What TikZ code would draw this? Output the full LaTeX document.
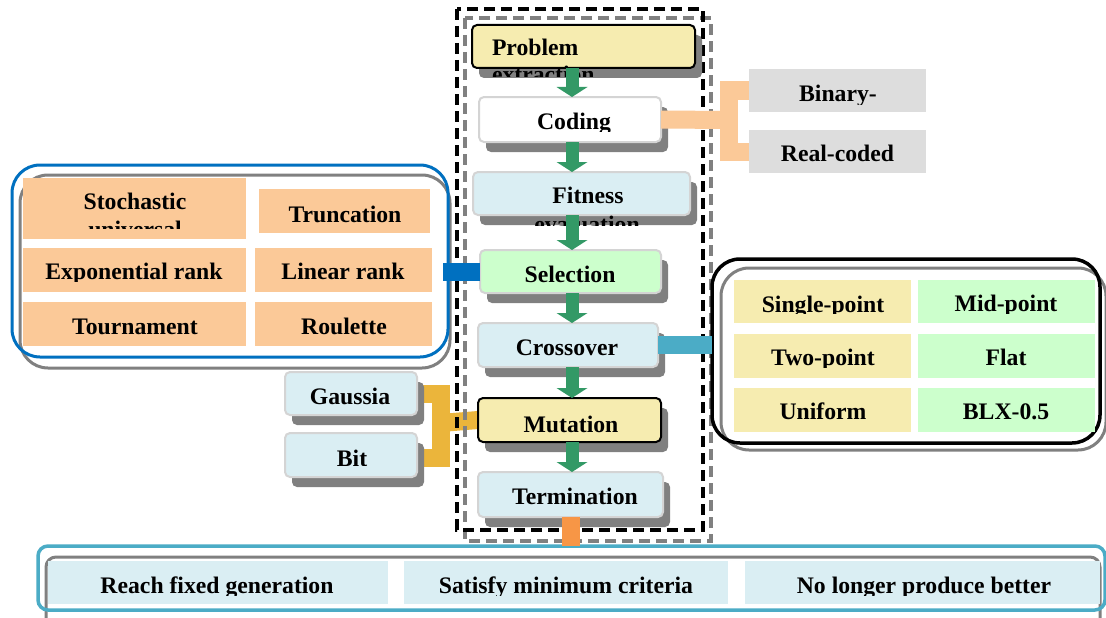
\documentclass[tikz,border=0pt]{standalone}
\usepackage{fontspec}
\setmainfont{Liberation Serif}
\usetikzlibrary{arrows.meta,calc}
\definecolor{yelC}{HTML}{F6ECB0}
\definecolor{lbC}{HTML}{DAEEF3}
\definecolor{grnC}{HTML}{CCFFCC}
\definecolor{peaC}{HTML}{FBC998}
\definecolor{grayC}{HTML}{DDDDDD}
\definecolor{blueC}{HTML}{0070C0}
\definecolor{tealC}{HTML}{4BACC6}
\definecolor{oraC}{HTML}{F79646}
\definecolor{musC}{HTML}{EBB53B}
\definecolor{arrC}{HTML}{339966}
\definecolor{shdC}{HTML}{808080}
\definecolor{bordC}{HTML}{D4D4D4}
\pgfdeclarelayer{back}
\pgfdeclarelayer{frame}
\pgfsetlayers{back,frame,main}
\newcommand{\rbox}[6]{\pgfmathsetmacro\bw{#4-#2}\pgfmathsetmacro\bh{#5-#3}%
 \node[#6, minimum width=\bw pt, minimum height=\bh pt, inner sep=0pt, outer sep=0pt] (#1) at ({(#2+#4)/2},{(#3+#5)/2}) {};}
\newcommand{\shbox}[6]{\fill[shdC, rounded corners=5pt] ({#2+7},{#3+10}) rectangle ({#4+7},{#5+10});%
 \rbox{#1}{#2}{#3}{#4}{#5}{#6}}
\newcommand{\ctxt}[5]{\begin{scope}\clip (0,0) rectangle (1106,#4);\node[txt,anchor=base] (#1) at (#2,#3) {#5};\end{scope}}
\begin{document}
\begin{tikzpicture}[x=1pt,y=-1pt,
  txt/.style={font=\fontsize{23.7}{28}\selectfont\bfseries, inner sep=0pt, outer sep=0pt},
  mainbox/.style={rounded corners=5pt, line width=2pt},
  cell/.style={draw=none},
  grpline/.style={line width=3pt, rounded corners=28pt},
  garrow/.style={arrC, line width=13pt, -{Triangle[width=31pt,length=10pt,line width=0pt]}},
  bar/.style={line width=18pt},
  dashframe/.style={line width=3.4pt, dash pattern=on 11pt off 6pt}]
\useasboundingbox (0,0) rectangle (1106,618);
\begin{pgfonlayer}{back}
\fill[white] (0,0) rectangle (1106,618);
\end{pgfonlayer}
% dashed frames
\begin{pgfonlayer}{frame}
\draw[shdC, dashframe] (465,18) rectangle (711,541);
\draw[black, dashframe] (457,9) rectangle (703,530);
\end{pgfonlayer}
% group outlines
\rbox{selgray}{20}{175}{450}{368}{draw=shdC, grpline}
\rbox{selgrp}{12}{165}{448}{357}{draw=blueC, grpline}
\rbox{crogray}{721}{268}{1106}{450}{draw=shdC, grpline}
\rbox{crogrp}{712}{259}{1100}{443}{draw=black, grpline, line width=3.5pt}
\rbox{botgray}{46}{557}{1100}{630}{draw=shdC, line width=3pt, rounded corners=10pt}
\rbox{bot}{38}{546}{1105}{610}{draw=tealC, line width=3.5pt, rounded corners=10pt}
% selection cells
\rbox{sus}{23}{178}{246}{239}{cell, fill=peaC}
\rbox{tru}{259}{189}{430}{233}{cell, fill=peaC}
\rbox{exr}{23}{248}{246}{292}{cell, fill=peaC}
\rbox{lir}{255}{248}{432}{292}{cell, fill=peaC}
\rbox{tou}{23}{302}{246}{346}{cell, fill=peaC}
\rbox{rou}{255}{302}{432}{346}{cell, fill=peaC}
\node[txt, anchor=base] (sust) at (135,209) {Stochastic};
\ctxt{sust2}{135}{237}{228}{universal}
\node[txt, anchor=base] (trut) at (345,222) {Truncation};
\ctxt{exrt}{134}{279}{281}{Exponential rank}
\node[txt, anchor=base] (lirt) at (343,279) {Linear rank};
\node[txt, anchor=base] (tout) at (135,334) {Tournament};
\node[txt, anchor=base] (rout) at (344,334) {Roulette};
% crossover cells
\rbox{sgp}{734}{280}{911}{323}{cell, fill=yelC}
\rbox{mdp}{918}{280}{1095}{323}{cell, fill=grnC}
\rbox{twp}{734}{334}{911}{378}{cell, fill=yelC}
\rbox{flt}{918}{334}{1095}{378}{cell, fill=grnC}
\rbox{uni}{734}{388}{911}{432}{cell, fill=yelC}
\rbox{blx}{918}{388}{1095}{432}{cell, fill=grnC}
\ctxt{sgpt}{823}{312}{313}{Single-point}
\ctxt{mdpt}{1006}{311}{313}{Mid-point}
\ctxt{twpt}{823}{365}{367}{Two-point}
\node[txt, anchor=base] (fltt) at (1006,365) {Flat};
\node[txt, anchor=base] (unit) at (823,419) {Uniform};
\node[txt, anchor=base] (blxt) at (1006,419) {BLX-0.5};
% bottom cells
\rbox{rfg}{48}{561}{388}{604}{cell, fill=lbC}
\rbox{smc}{404}{561}{728}{604}{cell, fill=lbC}
\rbox{nlp}{745}{561}{1100}{604}{cell, fill=lbC}
\ctxt{rfgt}{217}{593}{595}{Reach fixed generation}
\ctxt{smct}{566}{593}{595}{Satisfy minimum criteria}
\ctxt{nlpt}{924}{593}{595}{No longer produce better}
% coding options
\rbox{bin}{749}{69}{926}{112}{cell, fill=grayC}
\rbox{rea}{749}{130}{926}{173}{cell, fill=grayC}
\ctxt{bint}{838}{102}{104}{Binary-}
\node[txt, anchor=base] (reat) at (837.5,161) {Real-coded};
% main boxes
\shbox{pe}{472}{25}{695}{68}{mainbox, fill=yelC, draw=black}
\shbox{cod}{479}{97}{661}{142}{mainbox, fill=white, draw=bordC}
\shbox{fit}{473}{172}{690}{215}{mainbox, fill=lbC, draw=bordC}
\shbox{sel}{480}{250}{661}{293}{mainbox, fill=grnC, draw=bordC}
\shbox{cro}{478}{323}{658}{367}{mainbox, fill=lbC, draw=bordC}
\shbox{mut}{478}{398}{661}{442}{mainbox, fill=yelC, draw=black}
\shbox{ter}{478}{472}{663}{517}{mainbox, fill=lbC, draw=bordC}
\shbox{gau}{285}{372}{417}{415}{mainbox, fill=lbC, draw=bordC}
\shbox{bit}{285}{433}{417}{477}{mainbox, fill=lbC, draw=bordC}
% main texts
\node[txt, anchor=base west] (pet) at (492,56) {Problem};
\begin{scope}\clip (0,0) rectangle (1106,77);
\node[txt, anchor=base west] (pet2) at (492,82) {extraction};
\end{scope}
\ctxt{codt}{574}{129}{131}{Coding}
\node[txt, anchor=base] (fitt) at (588,203) {Fitness};
\ctxt{fitt2}{587}{232}{225}{evaluation}
\node[txt, anchor=base] (selt) at (570,282) {Selection};
\node[txt, anchor=base] (crot) at (567,355) {Crossover};
\node[txt, anchor=base] (mutt) at (571,432) {Mutation};
\node[txt, anchor=base] (tert) at (575,504) {Termination};
\ctxt{gaut}{350}{404}{404}{Gaussia}
\ctxt{bitt}{352}{466}{465}{Bit}
% connectors
\coordinate (ax) at (572,0);
\coordinate (jp) at (729,120);
\coordinate (jm) at (441,423);
\begin{pgfonlayer}{back}
\draw[bar, musC] (gau.east) -| (jm) |- ($(bit.east)+(0,3)$);
\draw[bar, musC] (jm) -- (mut.west);
\end{pgfonlayer}
\draw[bar, peaC] (bin.west) -| (jp) |- (rea.west);
\draw[bar, peaC] (cod.east) -- (jp);
\draw[bar, blueC] (sel.west) -- ($(sel.west -| selgrp.east)+(-5,0)$);
\draw[bar, tealC] (cro.east) -- (cro.east -| crogrp.west);
\draw[bar, oraC] (ter.south) -- (ter.south |- bot.north);
\draw[garrow] (pe.south -| ax) -- (cod.north -| ax);
\draw[garrow] (cod.south -| ax) -- (fit.north -| ax);
\draw[garrow] (fit.south -| ax) -- (sel.north -| ax);
\draw[garrow] (sel.south -| ax) -- (cro.north -| ax);
\draw[garrow] (cro.south -| ax) -- (mut.north -| ax);
\draw[garrow] (mut.south -| ax) -- (ter.north -| ax);
\end{tikzpicture}
\end{document}
